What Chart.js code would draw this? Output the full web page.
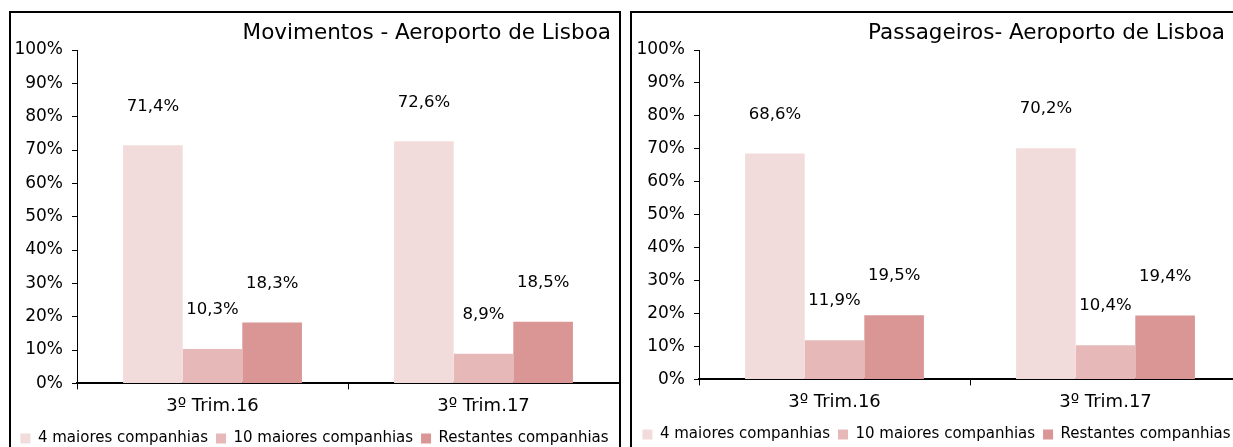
<!DOCTYPE html>
<html>
<head>
<meta charset="utf-8">
<script src="https://cdn.jsdelivr.net/npm/chart.js@4.4.0/dist/chart.umd.min.js"></script>
<style>
  html, body { margin: 0; padding: 0; background: #fff; overflow: hidden; }
  #page { position: relative; width: 1233px; height: 447px; overflow: hidden; font-family: "DejaVu Sans", sans-serif; }
  .panel { position: absolute; top: 11px; height: 460px; border: 2px solid #000; box-sizing: border-box; }
  .title { position: absolute; top: 19px; font-size: 21.5px; color: #000; white-space: nowrap; }
  canvas { position: absolute; top: 12px; }
</style>
</head>
<body>
<div id="page">
  <div class="panel" style="left:9px; width:612px;"></div>
  <div class="panel" style="left:630px; width:620px;"></div>
  <canvas id="movChart" width="609" height="444" style="left:10px;"></canvas>
  <canvas id="pasChart" width="609" height="444" style="left:632px;"></canvas>
  <div class="title" style="right:622px;">Movimentos - Aeroporto de Lisboa</div>
  <div class="title" style="right:8px;">Passageiros- Aeroporto de Lisboa</div>
</div>
<script>
// === Data ===
const categories = ["3º Trim.16", "3º Trim.17"];
const seriesNames = ["4 maiores companhias", "10 maiores companhias", "Restantes companhias"];
const seriesColors = ["#F2DCDB", "#E6B9B8", "#D99694"];

// Movimentos
const mov4 = [71.4, 72.6];
const mov10 = [10.3, 8.9];
const movRest = [18.3, 18.5];

// Passageiros
const pas4 = [68.6, 70.2];
const pas10 = [11.9, 10.4];
const pasRest = [19.5, 19.4];

const yTicks = [0, 10, 20, 30, 40, 50, 60, 70, 80, 90, 100];

// labels above bars, "71,4%"
const barLabels = {
  id: "barLabels",
  afterDatasetsDraw(chart) {
    const ctx = chart.ctx;
    ctx.save();
    ctx.font = "16.5px 'DejaVu Sans', sans-serif";
    ctx.fillStyle = "#000";
    ctx.textAlign = "center";
    ctx.textBaseline = "middle";
    chart.data.datasets.forEach((ds, i) => {
      chart.getDatasetMeta(i).data.forEach((bar, j) => {
        const txt = ds.data[j].toFixed(1).replace(".", ",") + "%";
        ctx.fillText(txt, bar.x, bar.y - 39);
      });
    });
    ctx.restore();
  }
};

function makeChart(id, s4, s10, sRest, padBottom) {
  const data = [s4, s10, sRest];
  return new Chart(document.getElementById(id).getContext("2d"), {
    type: "bar",
    data: {
      labels: categories,
      datasets: seriesNames.map((name, i) => ({
        label: name,
        data: data[i],
        backgroundColor: seriesColors[i],
        borderWidth: 0,
        categoryPercentage: 0.66,
        barPercentage: 1
      }))
    },
    options: {
      responsive: false,
      animation: false,
      layout: { padding: { top: 38, left: 0, right: 0, bottom: padBottom } },
      plugins: {
        title: { display: false },
        tooltip: { enabled: false },
        legend: {
          position: "bottom",
          labels: {
            boxWidth: 10,
            boxHeight: 10,
            padding: 8,
            color: "#000",
            font: { family: "'DejaVu Sans', sans-serif", size: 15 }
          }
        }
      },
      scales: {
        x: {
          grid: { drawOnChartArea: false, drawTicks: true, tickLength: 6, color: "#000", offset: true },
          border: { display: true, color: "#000", width: 2 },
          ticks: { color: "#000", padding: 6, font: { family: "'DejaVu Sans', sans-serif", size: 18 } }
        },
        y: {
          min: 0,
          max: 100,
          afterBuildTicks(scale) { scale.ticks = yTicks.map(v => ({ value: v })); },
          afterFit(scale) { scale.width = 67; },
          grid: { drawOnChartArea: false, drawTicks: true, tickLength: 5, color: "#000" },
          border: { display: true, color: "#000", width: 1 },
          ticks: {
            color: "#000",
            padding: 9,
            font: { family: "'DejaVu Sans', sans-serif", size: 17 },
            callback: v => v + "%"
          }
        }
      }
    },
    plugins: [barLabels]
  });
}

makeChart("movChart", mov4, mov10, movRest, 0);
makeChart("pasChart", pas4, pas10, pasRest, 4);
</script>
</body>
</html>
